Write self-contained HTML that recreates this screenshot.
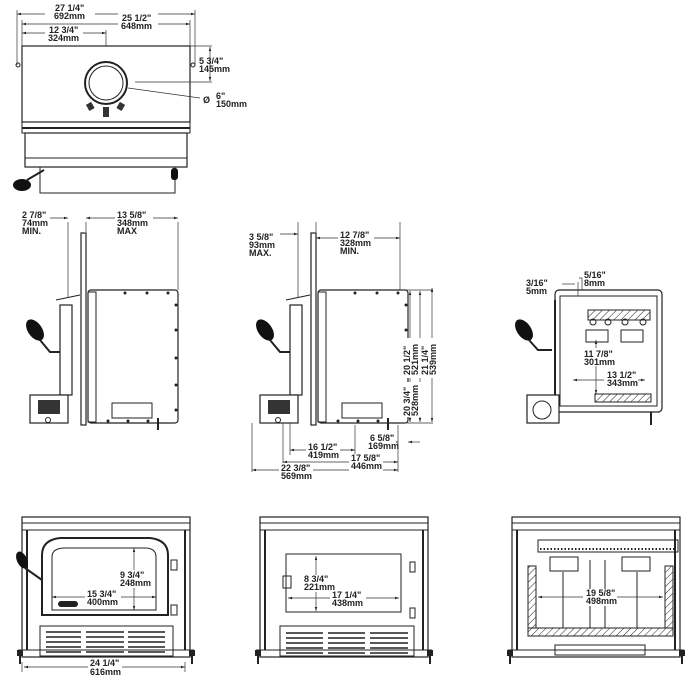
<!DOCTYPE html>
<html><head><meta charset="utf-8"><style>
html,body{margin:0;padding:0;background:#fff}
svg{display:block}
text{font-family:"Liberation Sans",sans-serif;font-size:9px;font-weight:bold;fill:#222}
.l{stroke:#222;stroke-width:1;fill:none}
.t{stroke:#222;stroke-width:2;fill:none}
.d{stroke:#333;stroke-width:.7;fill:none}
.f{fill:#fff;stroke:#222;stroke-width:1.2}
</style></head><body>
<svg width="700" height="700" viewBox="0 0 700 700" xmlns="http://www.w3.org/2000/svg">
<defs>
<marker id="a" viewBox="0 0 10 10" refX="10" refY="5" markerWidth="6" markerHeight="6" orient="auto-start-reverse"><path d="M0,2L10,5L0,8z" fill="#222"/></marker>
<pattern id="h" width="5" height="5" patternUnits="userSpaceOnUse" patternTransform="rotate(45)"><line x1="0" y1="0" x2="0" y2="5" stroke="#222" stroke-width="1"/></pattern>
<g id="side">
<rect class="f" x="88" y="290" width="90" height="133" rx="3"/>
<rect class="f" x="81" y="233" width="5" height="192"/>
<rect class="l" x="88" y="292" width="8" height="130"/>
<rect class="f" x="60" y="305" width="12" height="90"/>
<path class="l" d="M56,300 L80,295"/>
<rect class="f" x="30" y="395" width="38" height="28"/>
<rect x="38" y="400" width="22" height="14" fill="#333"/>
<ellipse cx="35" cy="330" rx="7" ry="12" transform="rotate(-35 35 330)" fill="#111"/>
<path class="t" d="M40,340 L50,352 L60,352"/>
<rect class="l" x="112" y="403" width="40" height="15"/>
<circle cx="48" cy="420" r="2.5" class="l"/>
<path class="t" d="M158,418 V430" stroke="#a36"/>
<g fill="#222"><circle cx="125" cy="293" r="1.5"/><circle cx="147" cy="293" r="1.5"/><circle cx="168" cy="293" r="1.5"/><circle cx="176" cy="305" r="1.5"/><circle cx="176" cy="330" r="1.5"/><circle cx="176" cy="358" r="1.5"/><circle cx="176" cy="385" r="1.5"/><circle cx="176" cy="410" r="1.5"/><circle cx="108" cy="421" r="1.5"/><circle cx="128" cy="421" r="1.5"/><circle cx="148" cy="421" r="1.5"/></g>
</g>
</defs>

<!-- TOP VIEW -->
<line class="d" x1="17" y1="14" x2="195" y2="14" marker-start="url(#a)" marker-end="url(#a)"/>
<line class="d" x1="22" y1="24" x2="190" y2="24" marker-start="url(#a)" marker-end="url(#a)"/>
<line class="d" x1="22" y1="33" x2="106" y2="33" marker-start="url(#a)" marker-end="url(#a)"/>
<line class="d" x1="17" y1="10" x2="17" y2="65"/><line class="d" x1="195" y1="10" x2="195" y2="65"/>
<line class="d" x1="22" y1="20" x2="22" y2="46"/><line class="d" x1="190" y1="20" x2="190" y2="46"/>
<line class="d" x1="106" y1="30" x2="106" y2="62"/>
<rect x="45" y="3" width="50" height="18" fill="#fff"/><text x="55" y="11">27 1/4"</text><text x="54" y="19">692mm</text>
<rect x="118" y="13" width="40" height="18" fill="#fff"/><text x="122" y="21">25 1/2"</text><text x="121" y="29">648mm</text>
<rect x="45" y="25" width="38" height="16" fill="#fff"/><text x="49" y="33">12 3/4"</text><text x="48" y="41">324mm</text>
<rect class="f" x="22" y="46" width="168" height="76"/>
<rect class="l" x="22" y="122" width="168" height="11"/>
<line class="t" x1="22" y1="128" x2="190" y2="128"/>
<g fill="#222"><circle cx="62" cy="134" r="1.2"/><circle cx="106" cy="134" r="1.2"/><circle cx="148" cy="134" r="1.2"/></g>
<rect class="f" x="25" y="133" width="162" height="34"/>
<line class="l" x1="25" y1="158" x2="187" y2="158"/>
<rect class="l" x="40" y="167" width="135" height="26"/>
<circle cx="106" cy="83" r="21" class="t"/><circle cx="106" cy="83" r="17" class="l"/>
<rect x="87" y="103" width="6" height="7" fill="#333" transform="rotate(-30 90 106)"/>
<rect x="103" y="107" width="6" height="10" fill="#333"/>
<rect x="118" y="103" width="6" height="7" fill="#333" transform="rotate(30 121 106)"/>
<circle cx="18" cy="65" r="2" class="l"/><circle cx="193" cy="65" r="2" class="l"/>
<ellipse cx="22" cy="185" rx="9" ry="6" fill="#111"/><path class="t" d="M27,180 L44,170"/>
<rect x="171" y="168" width="7" height="12" rx="3" fill="#111"/>
<line class="d" x1="190" y1="46" x2="212" y2="46"/><line class="d" x1="135" y1="82" x2="212" y2="82"/>
<line class="d" x1="210" y1="47" x2="210" y2="81" marker-start="url(#a)" marker-end="url(#a)"/>
<text x="199" y="64">5 3/4"</text><text x="199" y="72">145mm</text>
<line class="d" x1="128" y1="88" x2="200" y2="98"/>
<text x="203" y="103">Ø</text><text x="216" y="99">6"</text><text x="216" y="107">150mm</text>

<!-- SIDE VIEW 1 -->
<use href="#side"/>
<line class="d" x1="68" y1="222" x2="68" y2="298"/><line class="d" x1="86" y1="222" x2="86" y2="232"/><line class="d" x1="178" y1="222" x2="178" y2="290"/>
<line class="d" x1="50" y1="218" x2="68" y2="218" marker-end="url(#a)"/>
<line class="d" x1="86" y1="218" x2="178" y2="218" marker-start="url(#a)" marker-end="url(#a)"/>
<text x="22" y="218">2 7/8"</text><text x="22" y="226">74mm</text><text x="22" y="234">MIN.</text>
<rect x="115" y="210" width="38" height="28" fill="#fff"/>
<text x="117" y="218">13 5/8"</text><text x="117" y="226">348mm</text><text x="117" y="234">MAX</text>

<!-- SIDE VIEW 2 -->
<use href="#side" x="230"/>
<line class="d" x1="298" y1="222" x2="298" y2="298"/><line class="d" x1="316" y1="222" x2="316" y2="232"/><line class="d" x1="400" y1="222" x2="400" y2="290"/>
<line class="d" x1="280" y1="234" x2="298" y2="234" marker-end="url(#a)"/>
<line class="d" x1="316" y1="238" x2="400" y2="238" marker-start="url(#a)" marker-end="url(#a)"/>
<text x="249" y="240">3 5/8"</text><text x="249" y="248">93mm</text><text x="249" y="256">MAX.</text>
<rect x="338" y="230" width="36" height="28" fill="#fff"/>
<text x="340" y="238">12 7/8"</text><text x="340" y="246">328mm</text><text x="340" y="254">MIN.</text>
<line class="d" x1="400" y1="290" x2="433" y2="290"/><line class="d" x1="400" y1="423" x2="433" y2="423"/>
<line class="d" x1="410" y1="291" x2="410" y2="422" marker-start="url(#a)" marker-end="url(#a)"/>
<line class="d" x1="420" y1="291" x2="420" y2="422" marker-start="url(#a)" marker-end="url(#a)"/>
<line class="d" x1="432" y1="288" x2="432" y2="422" marker-start="url(#a)" marker-end="url(#a)"/>
<rect x="404" y="338" width="33" height="40" fill="#fff"/>
<text transform="translate(410,375) rotate(-90)">20 1/2"</text><text transform="translate(418,375) rotate(-90)">521mm</text>
<text transform="translate(428,375) rotate(-90)">21 1/4"</text><text transform="translate(436,375) rotate(-90)">539mm</text>
<rect x="404" y="382" width="20" height="35" fill="#fff"/>
<text transform="translate(410,416) rotate(-90)">20 3/4"</text><text transform="translate(418,416) rotate(-90)">528mm</text>
<line class="d" x1="290" y1="423" x2="290" y2="455"/><line class="d" x1="283" y1="423" x2="283" y2="465"/><line class="d" x1="252" y1="423" x2="252" y2="472"/><line class="d" x1="355" y1="425" x2="355" y2="455"/><line class="d" x1="398" y1="425" x2="398" y2="472"/>
<line class="d" x1="290" y1="450" x2="355" y2="450" marker-start="url(#a)" marker-end="url(#a)"/>
<line class="d" x1="283" y1="462" x2="398" y2="462" marker-start="url(#a)" marker-end="url(#a)"/>
<line class="d" x1="252" y1="470" x2="398" y2="470" marker-start="url(#a)" marker-end="url(#a)"/>
<line class="d" x1="380" y1="442" x2="398" y2="442" marker-end="url(#a)"/><line class="d" x1="420" y1="442" x2="408" y2="442" marker-end="url(#a)"/>
<rect x="306" y="442" width="34" height="18" fill="#fff"/><text x="308" y="450">16 1/2"</text><text x="308" y="458">419mm</text>
<rect x="366" y="434" width="30" height="17" fill="#fff"/><text x="370" y="441">6 5/8"</text><text x="368" y="449">169mm</text>
<rect x="349" y="454" width="34" height="17" fill="#fff"/><text x="351" y="461">17 5/8"</text><text x="351" y="469">446mm</text>
<rect x="279" y="463" width="34" height="18" fill="#fff"/><text x="281" y="471">22 3/8"</text><text x="281" y="479">569mm</text>

<!-- SIDE VIEW 3 (section) -->
<rect class="f" x="555" y="290" width="107" height="122" rx="4"/>
<rect class="l" x="560" y="296" width="97" height="110"/>
<rect x="588" y="310" width="62" height="10" fill="url(#h)" stroke="#222"/>
<circle cx="593" cy="322" r="3" class="l"/><circle cx="608" cy="322" r="3" class="l"/><circle cx="625" cy="322" r="3" class="l"/><circle cx="643" cy="322" r="3" class="l"/>
<rect class="l" x="586" y="330" width="22" height="12"/><rect class="l" x="621" y="330" width="22" height="12"/>
<rect x="595" y="394" width="56" height="8" fill="url(#h)" stroke="#222"/>
<line class="t" x1="555" y1="300" x2="555" y2="400"/>
<rect class="f" x="527" y="395" width="32" height="28"/>
<circle cx="542" cy="410" r="9" class="l"/>
<ellipse cx="524" cy="330" rx="7" ry="12" transform="rotate(-35 524 330)" fill="#111"/>
<path class="t" d="M529,340 L538,350 L552,350"/>
<line class="d" x1="596" y1="340" x2="596" y2="394" marker-start="url(#a)" marker-end="url(#a)"/>
<line class="d" x1="573" y1="380" x2="645" y2="380" marker-start="url(#a)" marker-end="url(#a)"/>
<rect x="581" y="348" width="32" height="18" fill="#fff"/><text x="584" y="357">11 7/8"</text><text x="584" y="365">301mm</text>
<rect x="604" y="370" width="34" height="18" fill="#fff"/><text x="607" y="378">13 1/2"</text><text x="607" y="386">343mm</text>
<text x="526" y="286">3/16"</text><text x="526" y="294">5mm</text>
<text x="584" y="278">5/16"</text><text x="584" y="286">8mm</text>
<line class="d" x1="562" y1="284" x2="575" y2="284"/><line class="d" x1="578" y1="282" x2="578" y2="296"/>
<path class="d" d="M579,278 H582 V290"/>
<path class="t" d="M651,412 V425" stroke="#a36"/>

<!-- FRONT VIEW LEFT -->
<g id="fr">
<rect class="f" x="22" y="517" width="168" height="140"/>
<line class="l" x1="22" y1="523" x2="190" y2="523"/>
<line class="l" x1="26" y1="530" x2="186" y2="530"/>
<rect class="l" x="22" y="530" width="5" height="120"/><rect class="l" x="185" y="530" width="5" height="120"/>
<line class="t" x1="27" y1="530" x2="27" y2="650"/><line class="t" x1="185" y1="530" x2="185" y2="650"/>
<line class="l" x1="18" y1="650" x2="194" y2="650"/>
<rect x="17" y="650" width="6" height="6" fill="#222"/><rect x="189" y="650" width="6" height="6" fill="#222"/>
<path class="t" d="M20,656 V664 M192,656 V664" stroke="#a36"/>
</g>
<path class="t" d="M42,615 V555 Q42,540 60,538 H150 Q168,540 168,555 V615 Z"/>
<path class="l" d="M52,610 V557 Q52,548 65,548 H145 Q156,548 156,557 V610 Z"/>
<rect x="58" y="601" width="20" height="6" rx="3" fill="#222"/>
<rect class="l" x="40" y="626" width="133" height="30"/>
<g stroke="#222" stroke-width="1.6">
<path d="M46,632h35M46,637h35M46,642h35M46,647h35M46,652h35M86,632h38M86,637h38M86,642h38M86,647h38M86,652h38M128,632h37M128,637h37M128,642h37M128,647h37M128,652h37"/>
</g>
<ellipse cx="22" cy="560" rx="5" ry="9" transform="rotate(-25 22 560)" fill="#111"/>
<path class="t" d="M25,568 L42,580"/>
<rect class="l" x="171" y="560" width="6" height="10"/><rect class="l" x="171" y="605" width="6" height="10"/>
<line class="d" x1="134" y1="548" x2="134" y2="610" marker-start="url(#a)" marker-end="url(#a)"/>
<line class="d" x1="52" y1="597" x2="156" y2="597" marker-start="url(#a)" marker-end="url(#a)"/>
<rect x="118" y="570" width="36" height="18" fill="#fff"/><text x="120" y="578">9 3/4"</text><text x="120" y="586">248mm</text>
<rect x="85" y="590" width="36" height="17" fill="#fff"/><text x="87" y="597">15 3/4"</text><text x="87" y="605">400mm</text>
<line class="d" x1="22" y1="662" x2="22" y2="672"/><line class="d" x1="185" y1="662" x2="185" y2="672"/>
<line class="d" x1="24" y1="667" x2="185" y2="667" marker-start="url(#a)" marker-end="url(#a)"/>
<rect x="88" y="659" width="34" height="18" fill="#fff"/><text x="90" y="666">24 1/4"</text><text x="90" y="675">616mm</text>

<!-- FRONT VIEW MIDDLE -->
<use href="#fr" x="238"/>
<rect class="l" x="286" y="554" width="115" height="58"/>
<rect class="l" x="283" y="576" width="8" height="12"/>
<rect class="l" x="410" y="562" width="5" height="10"/><rect class="l" x="410" y="608" width="5" height="10"/>
<rect class="l" x="280" y="626" width="134" height="30"/>
<g stroke="#222" stroke-width="1.6">
<path d="M286,633h37M286,638h37M286,643h37M286,648h37M286,653h37M328,633h37M328,638h37M328,643h37M328,648h37M328,653h37M370,633h38M370,638h38M370,643h38M370,648h38M370,653h38"/>
</g>
<line class="d" x1="316" y1="556" x2="316" y2="611" marker-start="url(#a)" marker-end="url(#a)"/>
<line class="d" x1="288" y1="598" x2="399" y2="598" marker-start="url(#a)" marker-end="url(#a)"/>
<rect x="302" y="575" width="30" height="17" fill="#fff"/><text x="304" y="582">8 3/4"</text><text x="304" y="590">221mm</text>
<rect x="330" y="591" width="36" height="17" fill="#fff"/><text x="332" y="598">17 1/4"</text><text x="332" y="606">438mm</text>

<!-- FRONT VIEW RIGHT -->
<use href="#fr" x="490"/>
<rect class="l" x="538" y="540" width="140" height="12"/>
<line stroke="#222" stroke-width="2" stroke-dasharray="1.5,2" x1="540" y1="549" x2="676" y2="549"/>
<rect class="l" x="550" y="557" width="28" height="14"/><rect class="l" x="622" y="557" width="28" height="14"/>
<rect x="528" y="566" width="8" height="62" fill="url(#h)" stroke="#222"/>
<rect x="665" y="566" width="8" height="62" fill="url(#h)" stroke="#222"/>
<rect x="528" y="628" width="145" height="8" fill="url(#h)" stroke="#222"/>
<path class="l" d="M590,560 V628 M605,560 V628 M563,572 V628 M637,572 V628"/>
<rect class="l" x="555" y="645" width="90" height="10"/>
<line class="d" x1="538" y1="597" x2="663" y2="597" marker-start="url(#a)" marker-end="url(#a)"/>
<rect x="583" y="589" width="34" height="17" fill="#fff"/><text x="586" y="596">19 5/8"</text><text x="586" y="604">498mm</text>
</svg>
</body></html>
